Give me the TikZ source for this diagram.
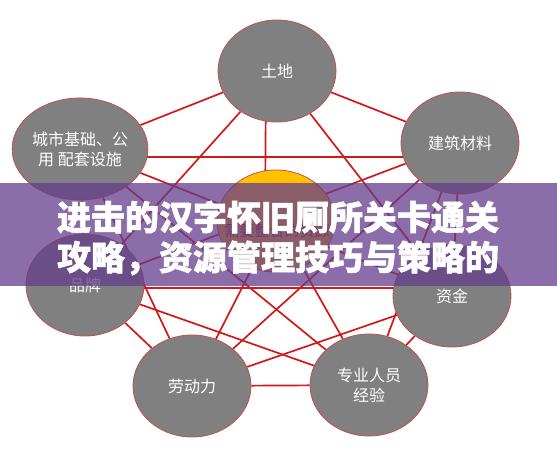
\documentclass[tikz,border=0pt]{standalone}
\usepackage{fontspec}
\newfontfamily\cjk{Noto Sans CJK SC}
\newfontfamily\cjkheavy{Noto Sans CJK SC}[BoldFeatures={FakeBold=1.5}]
\usetikzlibrary{shapes.geometric,backgrounds,calc}
\definecolor{nodegray}{RGB}{128,128,128}
\definecolor{rimred}{RGB}{192,80,77}
\definecolor{linkred}{RGB}{210,25,25}
\definecolor{coregold}{RGB}{255,192,0}
\definecolor{wordred}{RGB}{150,40,40}
\definecolor{bannerpurple}{RGB}{100,60,140}
\begin{document}
\begin{tikzpicture}[x=1pt, y=-1pt,
  res/.style = {shape=ellipse, draw=rimred, line width=0.8pt,
    fill=nodegray, minimum width=118pt, minimum height=102pt,
    inner sep=0pt, align=center, text=white,
    font=\cjk\fontsize{16}{20}\selectfont},
  link/.style = {draw=linkred, line width=1.7pt}]
\useasboundingbox (0,0) rectangle (557,470);
 \node[res] (tudi) at (277,71) {土地};
 \node[res] (jiancai) at (460,143) {建筑材料};
 \node[res] (chengshi) at (80,149) {城市基础、公\\用\ 配套设施};
 \node[res] (pinpai) at (85,285) {品牌};
 \node[res] (zijin) at (452,296) {资金};
 \node[res] (laodong) at (192,386) {劳动力};
 \node[res] (zhuanye) at (369,385) {专业人员\\经验};
 \node[res, fill=coregold] (core) at (276,221) {};
 \node[text=wordred, font=\cjk\fontsize{15}{18}\selectfont] (corelabel)
   at ($(core)+(1,10)$) {需要整合的资源};
 % red links behind the circles
 \begin{scope}[on background layer]
  \foreach \a/\b in {tudi/jiancai, jiancai/zijin, zijin/zhuanye,
      zhuanye/laodong, laodong/pinpai, pinpai/chengshi, chengshi/tudi,
      tudi/zijin, jiancai/zhuanye, zijin/laodong, zhuanye/pinpai,
      laodong/chengshi, pinpai/tudi,
      jiancai/laodong, chengshi/zhuanye, jiancai/pinpai, chengshi/zijin,
      core/laodong, core/zhuanye}
    \draw[link] (\a) -- (\b);
  \draw[link] ($(chengshi)+(0,8)$) -- ($(jiancai)+(0,14)$);
  \draw[link] ($(pinpai)+(0,3)$) -- ($(zijin)+(0,-8)$);
  \draw[link] ($(tudi)+(-11,0)$) -- ($(core)+(-11,0)$);
 \end{scope}
 % banner
 \fill[bannerpurple, opacity=0.75] (0,183) rectangle (557,286);
 \node[text=white, align=center,
   font=\cjkheavy\bfseries\fontsize{34}{40}\selectfont] (title) at (278,238)
   {进击的汉字怀旧厕所关卡通关\\攻略，资源管理技巧与策略的};
\end{tikzpicture}
\end{document}
